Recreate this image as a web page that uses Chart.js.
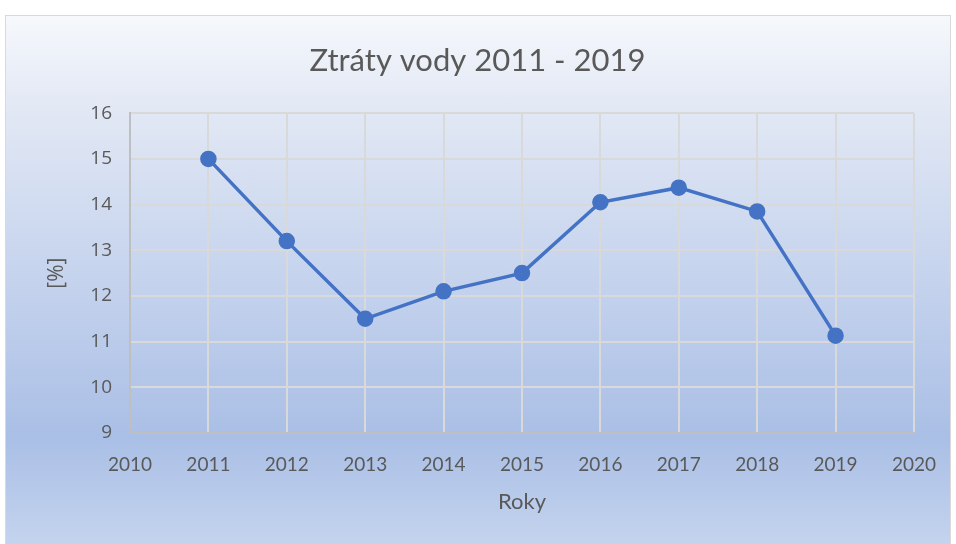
<!DOCTYPE html>
<html>
<head>
<meta charset="utf-8">
<script src="https://cdn.jsdelivr.net/npm/chart.js@4"></script>
<style>
  body { margin: 0; background: #fff; }
  #frame {
    position: absolute; left: 5px; top: 15px; width: 944px; height: 540px;
    border: 1px solid #d9d9d9;
    background: linear-gradient(to bottom, #f6f8fc 0%, #e3e9f5 16%, #aabfe6 78%, #c7d6ef 100%);
  }
  #wrap { position: absolute; left: 0; top: 0; width: 956px; height: 544px; }
</style>
</head>
<body>
<div id="frame"></div>
<div id="wrap"><canvas id="c" width="956" height="544"></canvas></div>
<script>
const years = [2011, 2012, 2013, 2014, 2015, 2016, 2017, 2018, 2019];
const losses = [15.0, 13.2, 11.5, 12.1, 12.5, 14.05, 14.37, 13.85, 11.13];
const xRange = [2010, 2020];
const yRange = [9, 16];

const textColor = '#595959';
const font = 'Lato, "Open Sans", sans-serif';
const font2 = '"Open Sans", Lato, sans-serif';

new Chart(document.getElementById('c'), {
  type: 'line',
  data: {
    datasets: [{
      label: 'Ztráty vody',
      data: years.map((y, i) => ({ x: y, y: losses[i] })),
      borderColor: '#4472c4',
      backgroundColor: '#4472c4',
      borderWidth: 3.5,
      pointRadius: 6.5,
      pointHoverRadius: 6.5,
      tension: 0
    }]
  },
  options: {
    responsive: false,
    animation: false,
    layout: { padding: { top: 28, left: 40, right: 41, bottom: 21 } },
    plugins: {
      legend: { display: false },
      tooltip: { enabled: false },
      title: {
        display: true,
        text: 'Ztráty vody 2011 - 2019',
        color: textColor,
        font: { family: font, size: 31, weight: 'normal' },
        padding: { top: 14, bottom: 34 }
      }
    },
    scales: {
      x: {
        type: 'linear',
        min: xRange[0], max: xRange[1],
        afterFit: s => { s.height = 90; },
        ticks: { stepSize: 1, padding: 20, color: textColor, font: { family: font, size: 19 }, callback: v => String(v) },
        grid: { color: '#d9d9d9', lineWidth: 2, drawTicks: false },
        border: { color: '#bfbfbf', width: 2 },
        title: { display: true, text: 'Roky', color: textColor, font: { family: font, size: 22 }, padding: { top: 4, bottom: 8 } }
      },
      y: {
        min: yRange[0], max: yRange[1],
        afterFit: s => { s.width = 90; },
        ticks: { stepSize: 1, padding: 18, color: textColor, font: { family: font2, size: 19 } },
        grid: { color: '#d9d9d9', lineWidth: 2, drawTicks: false },
        border: { color: '#bfbfbf', width: 2 },
        title: { display: true, text: '[%]', color: textColor, font: { family: font2, size: 21 }, padding: { top: 4, bottom: 4 } }
      }
    }
  }
});
</script>
</body>
</html>
